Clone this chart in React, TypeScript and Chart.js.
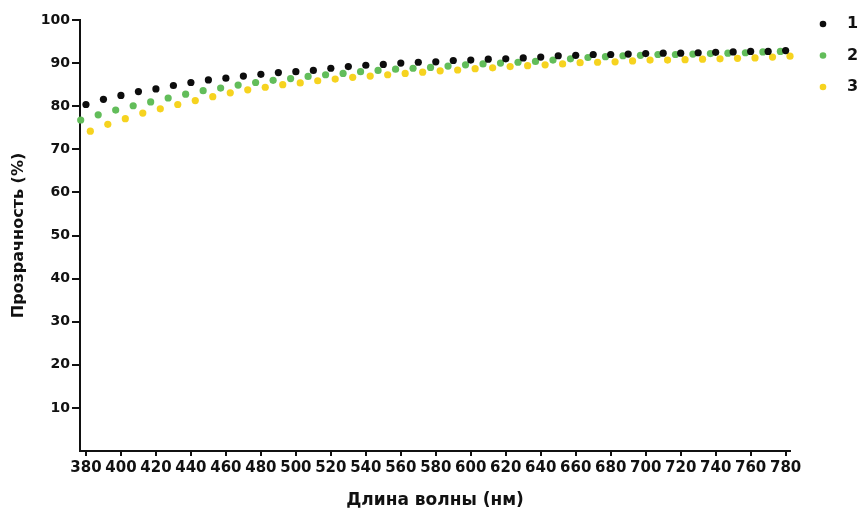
import React, { useEffect, useRef } from "react";
import { Chart, registerables } from "chart.js";

Chart.register(...registerables);

// Wavelength (nm)
const wavelengths = [
  380, 390, 400, 410, 420, 430, 440, 450, 460, 470, 480, 490, 500, 510, 520, 530, 540, 550, 560, 570,
  580, 590, 600, 610, 620, 630, 640, 650, 660, 670, 680, 690, 700, 710, 720, 730, 740, 750, 760, 770, 780,
];

// Transparency (%)
const series1 = [
  80.4, 81.6, 82.5, 83.4, 84.0, 84.8, 85.5, 86.1, 86.5, 87.0, 87.4, 87.8, 88.0, 88.3, 88.8, 89.2, 89.5, 89.7, 90.0, 90.2,
  90.3, 90.6, 90.7, 90.9, 91.0, 91.2, 91.4, 91.7, 91.8, 92.0, 92.0, 92.1, 92.2, 92.3, 92.3, 92.4, 92.5, 92.6, 92.7, 92.7, 92.9,
];
const series2 = [
  76.8, 78.0, 79.1, 80.1, 81.0, 81.9, 82.8, 83.6, 84.2, 84.9, 85.5, 86.0, 86.4, 86.9, 87.3, 87.6, 88.0, 88.3, 88.6, 88.8,
  89.0, 89.3, 89.6, 89.8, 90.0, 90.2, 90.4, 90.7, 91.0, 91.3, 91.5, 91.7, 91.8, 92.0, 92.0, 92.1, 92.2, 92.3, 92.4, 92.6, 92.7,
];
const series3 = [
  74.2, 75.8, 77.1, 78.4, 79.4, 80.4, 81.3, 82.2, 83.1, 83.8, 84.4, 85.0, 85.4, 85.9, 86.3, 86.7, 87.0, 87.3, 87.6, 87.9,
  88.2, 88.4, 88.7, 88.9, 89.2, 89.4, 89.6, 89.8, 90.1, 90.2, 90.3, 90.5, 90.7, 90.7, 90.8, 90.9, 91.0, 91.1, 91.2, 91.4, 91.6,
];

const seriesLabels = ["1", "2", "3"];
const xTicks = [380, 400, 420, 440, 460, 480, 500, 520, 540, 560, 580, 600, 620, 640, 660, 680, 700, 720, 740, 760, 780];
const yTicks = [10, 20, 30, 40, 50, 60, 70, 80, 90, 100];

const xTitle = "Длина волны (нм)";
const yTitle = "Прозрачность (%)";

// styles
const colors = ["#0d0d0d", "#62bd5a", "#f6d31f"];
const nudges = [0, -3, 2.5]; // horizontal dodge per series (nm)
const FONT = "'DejaVu Sans', 'Liberation Sans', Arial, sans-serif";

const sideLegend = {
  id: "sideLegend",
  afterDraw(chart: any, _args: any, opts: any) {
    const ctx = chart.ctx;
    ctx.save();
    chart.data.datasets.forEach((ds: any, i: number) => {
      const y = opts.top + i * opts.spacing;
      ctx.beginPath();
      ctx.arc(opts.dotX, y, opts.radius, 0, Math.PI * 2);
      ctx.fillStyle = ds.backgroundColor;
      ctx.fill();
      ctx.fillStyle = "#111";
      ctx.font = `bold ${opts.fontSize}px ${FONT}`;
      ctx.textAlign = "left";
      ctx.textBaseline = "middle";
      ctx.fillText(ds.label, opts.textX, y);
    });
    ctx.restore();
  },
};

export default function App() {
  const ref = useRef<HTMLCanvasElement | null>(null);

  useEffect(() => {
    if (!ref.current) return;
    const all = [series1, series2, series3];
    const chart = new Chart(ref.current, {
      type: "scatter",
      data: {
        datasets: all.map((s, i) => ({
          label: seriesLabels[i],
          data: s.map((v, j) => ({ x: wavelengths[j] + nudges[i], y: v })),
          backgroundColor: colors[i],
          borderColor: colors[i],
          pointRadius: 3.6,
          pointBorderWidth: 0,
          pointHoverRadius: 3.6,
          clip: false,
        })),
      },
      plugins: [sideLegend],
      options: {
        responsive: false,
        animation: false,
        events: [],
        layout: { padding: { top: 20, right: 73, left: 0, bottom: 0 } },
        plugins: {
          legend: { display: false },
          tooltip: { enabled: false },
          sideLegend: { dotX: 823, textX: 847, top: 24, spacing: 31.5, radius: 3.3, fontSize: 16 },
        } as any,
        scales: {
          x: {
            type: "linear",
            min: 376.6,
            max: 782.5,
            afterBuildTicks: (scale: any) => {
              scale.ticks = xTicks.map((v) => ({ value: v }));
            },
            afterFit: (scale: any) => {
              scale.height = 61;
            },
            ticks: {
              autoSkip: false,
              maxRotation: 0,
              padding: 3,
              color: "#111",
              font: { family: FONT, size: 15, weight: "bold" },
              callback: (v: any) => String(v),
            },
            grid: { drawOnChartArea: false, color: "#111", lineWidth: 2, tickLength: 5 },
            border: { color: "#111", width: 2 },
            title: {
              display: true,
              text: xTitle,
              color: "#111",
              font: { family: FONT, size: 17, weight: "bold" },
              padding: { top: 0, bottom: 1 },
            },
          },
          y: {
            type: "linear",
            min: 0,
            max: 100,
            afterBuildTicks: (scale: any) => {
              scale.ticks = yTicks.map((v) => ({ value: v }));
            },
            afterFit: (scale: any) => {
              scale.width = 80;
            },
            ticks: {
              padding: 2,
              color: "#111",
              font: { family: FONT, size: 14, weight: "bold" },
              callback: (v: any) => String(v),
            },
            grid: { drawOnChartArea: false, color: "#111", lineWidth: 2, tickLength: 8 },
            border: { color: "#111", width: 2 },
            title: {
              display: true,
              text: yTitle,
              color: "#111",
              font: { family: FONT, size: 16, weight: "bold" },
              padding: { top: 9, bottom: 0 },
            },
          },
        },
      },
    });
    return () => chart.destroy();
  }, []);

  return (
    <div style={{ position: "fixed", left: 0, top: 0, width: 863, height: 512, background: "#fff" }}>
      <canvas ref={ref} width={863} height={512} style={{ display: "block" }} />
    </div>
  );
}
